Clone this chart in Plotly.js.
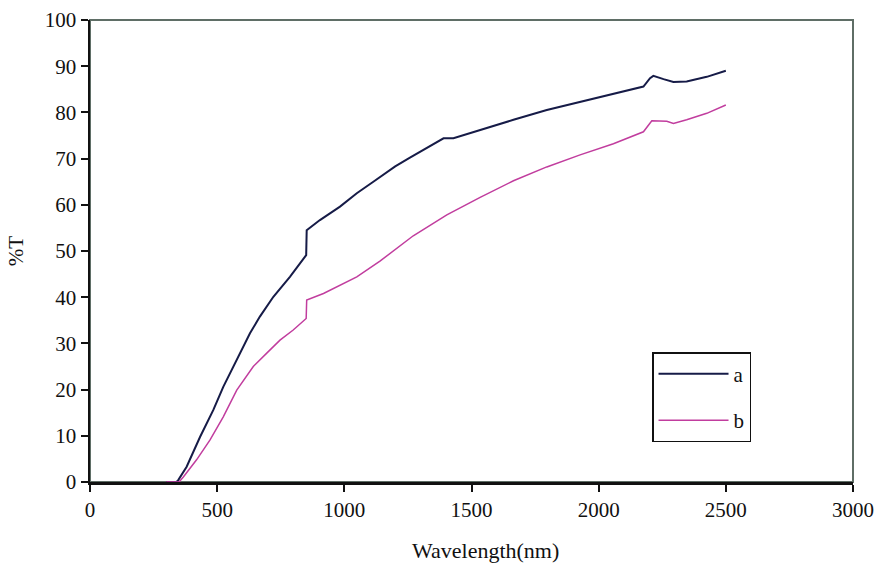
<!DOCTYPE html>
<html>
<head>
<meta charset="utf-8">
<script src="https://cdn.plot.ly/plotly-3.0.1.min.js"></script>
<style>html,body{margin:0;padding:0;background:#fff;}#chart{width:879px;height:568px;}</style>
</head>
<body>
<div id="chart"></div>
<script>
// Wavelength (nm) and %T for sample a
const wlA = [300, 340, 347, 380, 433, 485, 524, 577, 629, 668, 721, 786, 850, 852, 904, 983, 1049, 1114, 1140, 1200, 1258, 1320, 1376, 1390, 1429, 1534, 1665, 1796, 1927, 2058, 2176, 2202, 2215, 2255, 2294, 2346, 2425, 2500];
const tA  = [0, 0, 0.4, 3.3, 9.8, 15.6, 20.6, 26.4, 32.2, 35.8, 40.1, 44.4, 49.1, 54.5, 56.7, 59.6, 62.5, 65.0, 66.0, 68.3, 70.2, 72.2, 74.0, 74.4, 74.4, 76.2, 78.4, 80.5, 82.3, 84.1, 85.6, 87.4, 87.9, 87.2, 86.6, 86.7, 87.7, 89.0];
// Wavelength (nm) and %T for sample b
const wlB = [300, 350, 367, 419, 472, 524, 577, 642, 695, 747, 799, 850, 852, 918, 1049, 1140, 1271, 1403, 1534, 1665, 1796, 1927, 2058, 2176, 2209, 2268, 2294, 2346, 2425, 2500];
const tB  = [0, 0, 1.1, 4.8, 9.1, 14.1, 19.9, 25.0, 27.9, 30.7, 32.9, 35.4, 39.4, 40.8, 44.4, 47.8, 53.3, 57.8, 61.6, 65.2, 68.2, 70.8, 73.2, 75.8, 78.2, 78.1, 77.6, 78.4, 79.8, 81.6];
const xTicks = [0, 500, 1000, 1500, 2000, 2500, 3000];
const yTicks = [0, 10, 20, 30, 40, 50, 60, 70, 80, 90, 100];

const font = {family: '"Liberation Serif", "Times New Roman", serif', size: 21, color: '#111'};

const traces = [
  {x: wlA, y: tA, name: 'a', mode: 'lines', legendgroup: 'a', line: {color: '#161b47', width: 2}},
  {x: wlB, y: tB, name: 'b', mode: 'lines', legendgroup: 'b', line: {color: '#c13d9e', width: 1.5}}
];

const layout = {
  width: 879, height: 568,
  margin: {l: 90, r: 26, t: 20, b: 86},
  paper_bgcolor: '#fff', plot_bgcolor: '#fff',
  font: font,
  showlegend: true,
  xaxis: {
    range: [0, 3000], tickvals: xTicks, ticktext: xTicks.map(String),
    showgrid: false, zeroline: false, showline: true, linecolor: '#111', linewidth: 2.5,
    ticks: 'outside', ticklen: 7, tickwidth: 2, tickcolor: '#111'
  },
  yaxis: {
    range: [0, 100], tickvals: yTicks, ticktext: yTicks.map(String),
    showgrid: false, zeroline: false, showline: true, linecolor: '#111', linewidth: 2.5,
    ticks: 'outside', ticklen: 7, tickwidth: 2, tickcolor: '#111',
    title: {text: '%T', font: {family: font.family, size: 21, color: '#111'}, standoff: 16}
  },
  annotations: [{text: 'Wavelength(nm)', xref: 'paper', yref: 'paper', x: 0.518, y: -0.148,
                 xanchor: 'center', yanchor: 'middle', showarrow: false,
                 font: {family: font.family, size: 22, color: '#111'}}],
  shapes: [{type: 'rect', xref: 'paper', yref: 'paper', x0: 0, x1: 1, y0: 0, y1: 1,
            line: {color: '#5f6e66', width: 2}, layer: 'below'}],
  legend: {
    x: 0.7366, y: 0.281, xanchor: 'left', yanchor: 'top',
    bgcolor: '#fff', bordercolor: '#111', borderwidth: 1.5,
    font: {family: font.family, size: 21, color: '#111'},
    tracegroupgap: 16, itemwidth: 70, entrywidth: 112, entrywidthmode: 'pixels'
  }
};

Plotly.newPlot('chart', traces, layout, {displayModeBar: false, staticPlot: true});
</script>
</body>
</html>
